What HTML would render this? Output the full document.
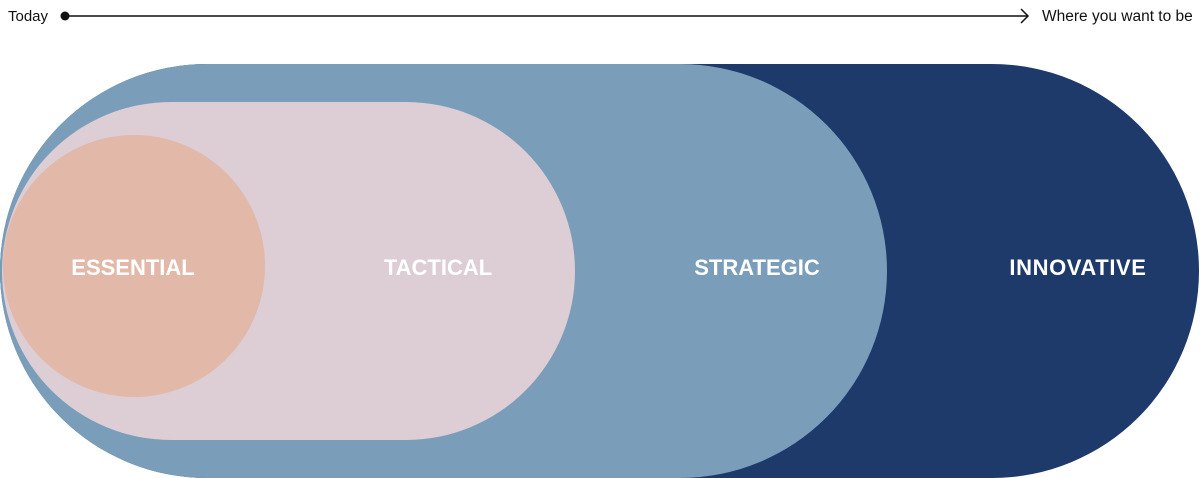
<!DOCTYPE html>
<html><head><meta charset="utf-8"><style>
html,body{margin:0;padding:0;background:#fff;width:1200px;height:478px;overflow:hidden}
svg text{font-family:"Liberation Sans",sans-serif}
</style></head><body>
<svg width="1200" height="478" viewBox="0 0 1200 478" xmlns="http://www.w3.org/2000/svg">
<text x="8" y="21" font-size="15" fill="#111">Today</text>
<circle cx="65" cy="16" r="4.5" fill="#111"/>
<line x1="65" y1="16" x2="1028" y2="16" stroke="#111" stroke-width="1.5"/>
<polyline points="1021,9 1028,16 1021,23" fill="none" stroke="#111" stroke-width="1.5"/>
<text x="1042" y="21" font-size="15.5" fill="#111">Where you want to be</text>
<rect x="0" y="64" width="1199" height="414" rx="207" ry="207" fill="#1d3a6b"/>
<rect x="0" y="64" width="887" height="414" rx="207" ry="207" fill="#7a9eb9"/>
<rect x="2" y="102" width="573" height="338" rx="169" ry="169" fill="#ddcdd5"/>
<circle cx="134" cy="266" r="131" fill="#e2b8a8"/>
<g font-size="22" font-weight="bold" fill="#fff" text-anchor="middle">
<text x="133" y="275">ESSENTIAL</text>
<text x="438" y="275">TACTICAL</text>
<text x="757" y="275">STRATEGIC</text>
<text x="1078" y="275" letter-spacing="0.6">INNOVATIVE</text>
</g>
</svg>
</body></html>
